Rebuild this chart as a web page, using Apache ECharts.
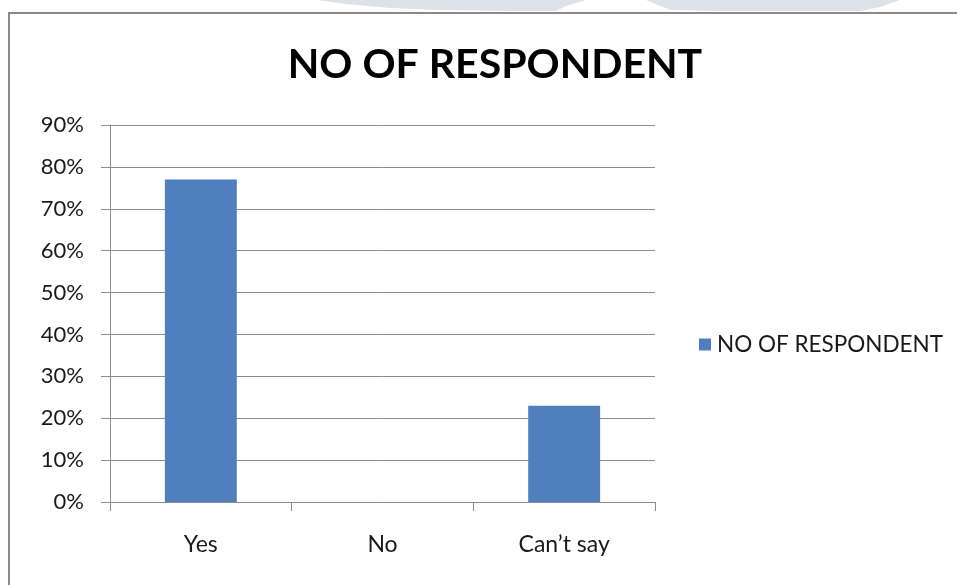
<!DOCTYPE html>
<html>
<head>
<meta charset="utf-8">
<style>
  html, body { margin: 0; padding: 0; background: #ffffff; }
  #chart { width: 957px; height: 585px; }
</style>
<script src="https://cdn.jsdelivr.net/npm/echarts@6/dist/echarts.min.js"></script>
</head>
<body>
<div id="chart"></div>
<script>
// Survey answers and share of respondents (percent)
const categories = ['Yes', 'No', 'Can\u2019t say'];
const respondentShare = [77, 0, 23];
const seriesName = 'NO OF RESPONDENT';
const chartTitle = 'NO OF RESPONDENT';

const FONT = 'Lato, "Open Sans", sans-serif';
const GRID_COLOR = '#8c8c8c';

const chart = echarts.init(document.getElementById('chart'), null, { renderer: 'canvas' });

chart.setOption({
  backgroundColor: '#ffffff',
  animation: false,
  title: {
    text: chartTitle,
    left: 490,
    textAlign: 'center',
    top: 39,
    textStyle: { fontFamily: FONT, fontWeight: 'bold', fontSize: 41, color: '#000000' }
  },
  legend: {
    data: [seriesName],
    orient: 'vertical',
    left: 694,
    top: 328,
    itemWidth: 12,
    itemHeight: 12,
    itemGap: 6,
    icon: 'rect',
    textStyle: { fontFamily: FONT, fontSize: 22.5, color: '#1a1a1a', padding: [0, 0, 0, 1] }
  },
  grid: { left: 110, right: 302, top: 125, bottom: 83, containLabel: false },
  xAxis: {
    type: 'category',
    data: categories,
    boundaryGap: true,
    axisLine: { show: true, lineStyle: { color: GRID_COLOR, width: 1 } },
    axisTick: { show: true, length: 9, inside: false, lineStyle: { color: GRID_COLOR } },
    axisLabel: { fontFamily: FONT, fontSize: 23, color: '#1a1a1a', margin: 31 },
    splitLine: { show: false }
  },
  yAxis: {
    type: 'value',
    min: 0,
    max: 90,
    interval: 10,
    axisLine: { show: true, lineStyle: { color: GRID_COLOR, width: 1 } },
    axisTick: { show: true, length: 9, lineStyle: { color: GRID_COLOR } },
    axisLabel: { formatter: '{value}%', fontFamily: FONT, fontSize: 22, color: '#1a1a1a', margin: 26 },
    splitLine: { show: true, lineStyle: { color: GRID_COLOR, width: 1 } }
  },
  series: [{
    name: seriesName,
    type: 'bar',
    data: respondentShare,
    barWidth: '39.6%',
    itemStyle: { color: '#4f7fbc' }
  }],
  graphic: [
    // faint background shapes peeking above the frame
    {
      type: 'polygon',
      silent: true,
      z: -10,
      shape: { points: [[317, 0], [345, 4], [390, 8], [440, 10], [520, 11], [556, 11], [566, 6], [586, 0]] },
      style: { fill: '#dde2e8' }
    },
    {
      type: 'polygon',
      silent: true,
      z: -10,
      shape: { points: [[646, 0], [660, 6], [672, 10], [720, 11], [860, 11], [880, 7], [900, 0]] },
      style: { fill: '#dde2e8' }
    },
    // chart frame
    {
      type: 'rect',
      silent: true,
      z: -5,
      shape: { x: 9, y: 13, width: 960, height: 600 },
      style: { fill: '#ffffff', stroke: '#8a8a8a', lineWidth: 2 }
    }
  ]
});
</script>
</body>
</html>
